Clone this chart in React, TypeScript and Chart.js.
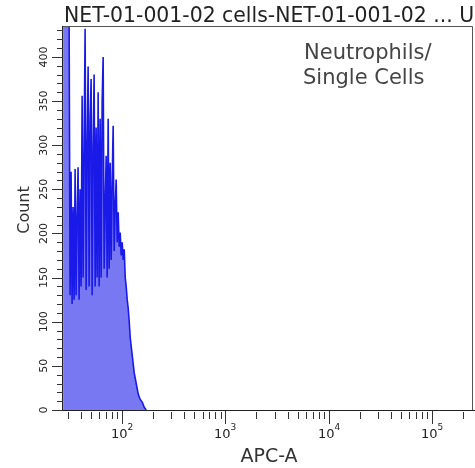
import React, { useEffect, useRef } from "react";
import { Chart, registerables } from "chart.js";

Chart.register(...registerables);

// Channel values (APC-A) of the histogram bins and their counts
const apcValues = [
  26.74, 27.35, 27.97, 28.6, 29.24, 29.91, 30.58, 31.27, 31.98, 32.7, 33.44, 34.2, 34.97, 35.76,
  36.57, 37.4, 38.24, 39.11, 39.99, 40.9, 41.82, 42.77, 43.73, 44.72, 45.73, 46.77, 47.82, 48.9,
  50.0, 51.13, 52.29, 53.47, 54.68, 55.91, 57.18, 58.47, 59.79, 61.14, 62.53, 63.94, 65.38, 66.86,
  68.39, 69.93, 71.51, 73.12, 74.78, 76.46, 78.2, 79.96, 81.76, 83.61, 85.5, 87.43, 89.43, 91.45,
  93.5, 95.63, 97.8, 100, 102.3, 104.6, 107, 109.3, 111.8, 114.4, 117, 119.6, 125.1, 130.8, 136.8,
  143, 149.5, 156.4, 163.5, 171,
];
const counts = [
  600, 600, 560, 540, 500, 470, 450, 130, 270, 120, 230, 125, 273, 130,
  220, 275, 125, 250, 140, 356, 150, 300, 432, 136, 300, 389, 140, 330,
  375, 130, 300, 380, 140, 320, 150, 360, 140, 330, 150, 350, 400, 160,
  230, 288, 150, 330, 160, 280, 170, 260, 322, 180, 230, 261, 190, 224,
  185, 201, 175, 190, 170, 182, 150, 140, 125, 115, 100, 82, 62, 42, 30,
  18, 12, 9, 3, 0,
];

const xMin = 26.7;
const xMax = 245000;
const yMax = 435;

const yMajorTicks = [0, 50, 100, 150, 200, 250, 300, 350, 400];
const yMinorStep = 10;
const xMajorTicks = [100, 1000, 10000, 100000];
const xMajorExponents = ["2", "3", "4", "5"];

const titleText = "NET-01-001-02 cells-NET-01-001-02 ... U";
const gateLines = ["Neutrophils/", "Single Cells"];
const xAxisTitle = "APC-A";
const yAxisTitle = "Count";

const FONT = "'DejaVu Sans', sans-serif";

const decorPlugin = {
  id: "flowDecor",
  afterDraw(chart: any) {
    const ctx = chart.ctx as CanvasRenderingContext2D;
    const area = chart.chartArea;
    const xs = chart.scales.x;
    const ys = chart.scales.y;
    ctx.save();

    // frame
    ctx.strokeStyle = "#555";
    ctx.lineWidth = 1;
    ctx.beginPath();
    ctx.moveTo(area.left, area.top + 0.5);
    ctx.lineTo(area.right + 0.5, area.top + 0.5);
    ctx.lineTo(area.right + 0.5, area.bottom);
    ctx.stroke();
    ctx.strokeStyle = "#222";
    ctx.beginPath();
    ctx.moveTo(area.left - 0.5, area.top);
    ctx.lineTo(area.left - 0.5, area.bottom + 0.5);
    ctx.lineTo(chart.width, area.bottom + 0.5);
    ctx.stroke();

    // y ticks
    ctx.strokeStyle = "#333";
    for (let v = 0; v <= yMax; v += yMinorStep) {
      const py = Math.round(ys.getPixelForValue(v)) + 0.5;
      const major = yMajorTicks.includes(v);
      ctx.beginPath();
      ctx.moveTo(area.left - (major ? 11 : 6), py);
      ctx.lineTo(area.left, py);
      ctx.stroke();
    }
    ctx.fillStyle = "#222";
    ctx.font = `11px ${FONT}`;
    ctx.textAlign = "center";
    ctx.textBaseline = "middle";
    yMajorTicks.forEach((v) => {
      const py = ys.getPixelForValue(v);
      ctx.save();
      ctx.translate(area.left - 19, py);
      ctx.rotate(-Math.PI / 2);
      ctx.fillText(String(v), 0, 0);
      ctx.restore();
    });

    // x ticks
    const minor: number[] = [];
    for (let d = 10; d <= 100000; d *= 10) {
      for (let m = 2; m <= 9; m++) {
        const v = d * m;
        if (v > xMin && v < xMax) minor.push(v);
      }
    }
    minor.forEach((v) => {
      const px = Math.round(xs.getPixelForValue(v)) + 0.5;
      ctx.beginPath();
      ctx.moveTo(px, area.bottom + 2);
      ctx.lineTo(px, area.bottom + 9);
      ctx.stroke();
    });
    xMajorTicks.forEach((v, i) => {
      const px = Math.round(xs.getPixelForValue(v)) + 0.5;
      ctx.beginPath();
      ctx.moveTo(px, area.bottom + 1);
      ctx.lineTo(px, area.bottom + 14);
      ctx.stroke();
      ctx.font = `13px ${FONT}`;
      ctx.textAlign = "right";
      ctx.textBaseline = "alphabetic";
      ctx.fillText("10", px + 5, area.bottom + 28);
      ctx.font = `9px ${FONT}`;
      ctx.textAlign = "left";
      ctx.fillText(xMajorExponents[i], px + 5, area.bottom + 20);
    });

    // axis titles
    ctx.fillStyle = "#333";
    ctx.font = `19px ${FONT}`;
    ctx.textAlign = "center";
    ctx.textBaseline = "alphabetic";
    ctx.fillText(xAxisTitle, 269, 462);
    ctx.save();
    ctx.translate(29, 210);
    ctx.rotate(-Math.PI / 2);
    ctx.font = `16px ${FONT}`;
    ctx.fillText(yAxisTitle, 0, 0);
    ctx.restore();

    // title
    ctx.fillStyle = "#222";
    ctx.font = `20.4px ${FONT}`;
    ctx.textAlign = "left";
    ctx.fillText(titleText, 64, 22);

    // gate label
    ctx.fillStyle = "#444";
    ctx.font = `21px ${FONT}`;
    ctx.fillText(gateLines[0], 304, 59);
    ctx.fillText(gateLines[1], 303, 84);

    ctx.restore();
  },
};

export default function App() {
  const ref = useRef<HTMLCanvasElement | null>(null);
  useEffect(() => {
    document.body.style.margin = "0";
    const canvas = ref.current!;
    const chart = new Chart(canvas, {
      type: "line",
      data: {
        datasets: [
          {
            data: apcValues.map((x, i) => ({ x, y: counts[i] })),
            borderColor: "#1a1ae8",
            backgroundColor: "#7878f2",
            borderWidth: 1.6,
            fill: "origin",
            pointRadius: 0,
            tension: 0,
          },
        ],
      },
      options: {
        responsive: false,
        animation: false,
        devicePixelRatio: 1,
        layout: { padding: { left: 63, top: 26, right: 3, bottom: 58 } },
        plugins: { legend: { display: false }, tooltip: { enabled: false }, title: { display: false } },
        scales: {
          x: { type: "logarithmic", min: xMin, max: xMax, display: false },
          y: { type: "linear", min: 0, max: yMax, display: false },
        },
      },
      plugins: [decorPlugin],
    });
    return () => chart.destroy();
  }, []);
  return (
    <div style={{ position: "fixed", left: 0, top: 0, width: 475, height: 468, background: "#fff" }}>
      <canvas ref={ref} width={475} height={468} />
    </div>
  );
}
